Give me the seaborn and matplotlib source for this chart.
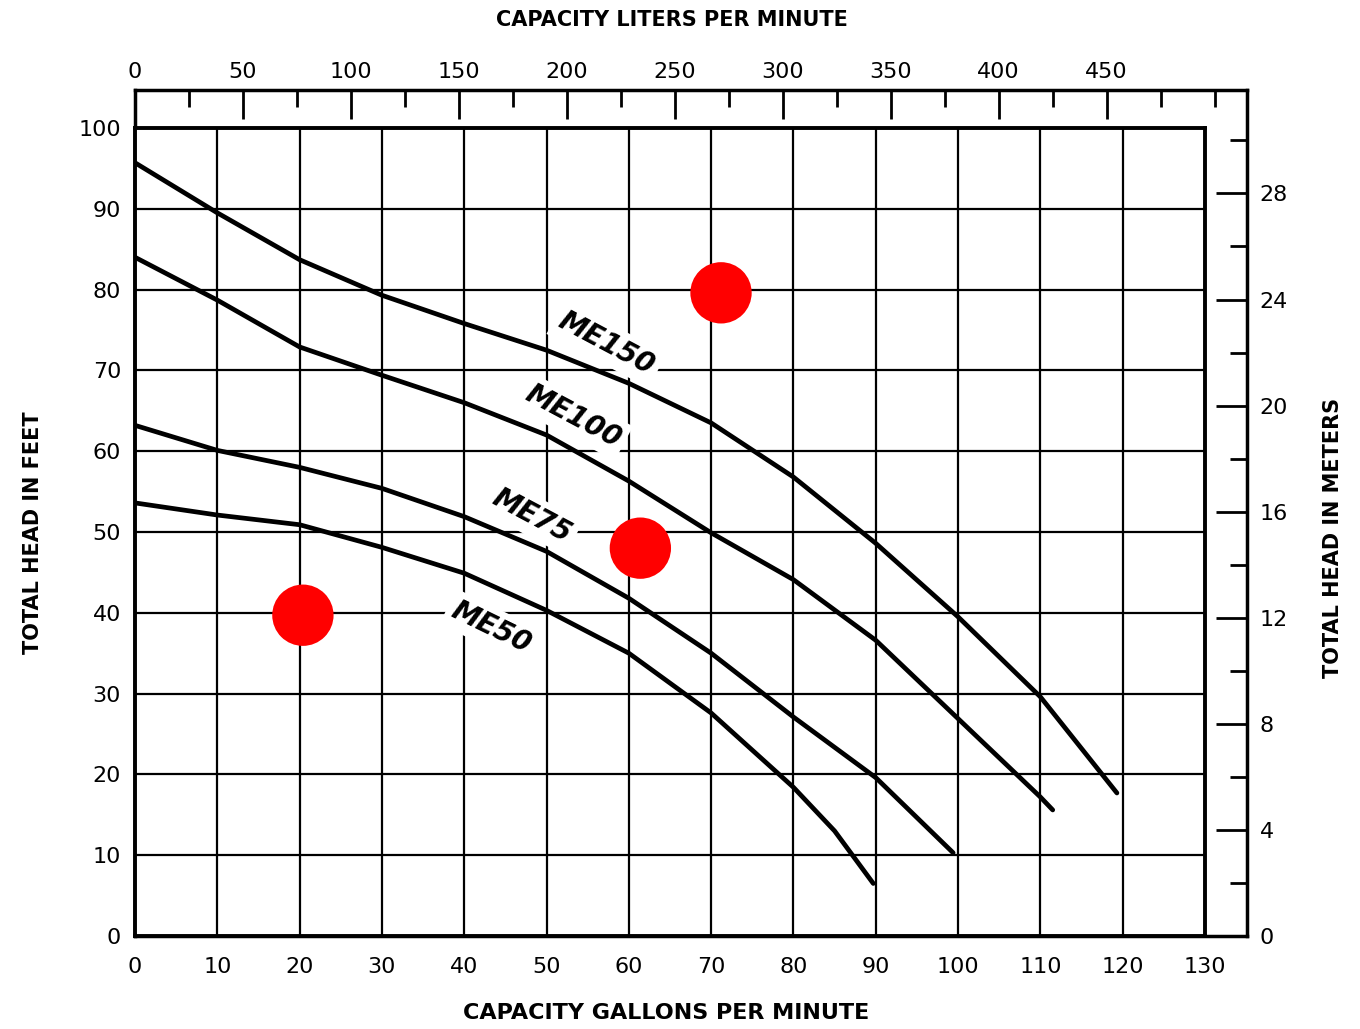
import numpy as np
import pandas as pd
import seaborn as sns
import matplotlib.pyplot as plt
from matplotlib.ticker import MultipleLocator

sns.set_style("white")
plt.rcParams['font.family'] = ['DejaVu Sans']
plt.rcParams['text.color'] = 'black'
plt.rcParams['xtick.color'] = 'black'
plt.rcParams['ytick.color'] = 'black'
plt.rcParams['axes.labelcolor'] = 'black'

# Pump curves (capacity in gpm, head in feet)
me150_gpm = [0, 10, 20, 30, 40, 50, 60, 70, 80, 90, 100, 110, 119.3]
me150_ft = [95.7, 89.5, 83.7, 79.3, 75.8, 72.5, 68.4, 63.5, 56.8, 48.6, 39.5, 29.6, 17.7]

me100_gpm = [0, 10, 20, 30, 40, 50, 60, 70, 80, 90, 100, 110, 111.5]
me100_ft = [84.0, 78.7, 72.9, 69.4, 66.0, 62.0, 56.3, 49.9, 44.1, 36.6, 26.9, 17.2, 15.6]

me75_gpm = [0, 10, 20, 30, 40, 50, 60, 70, 80, 90, 99.4]
me75_ft = [63.2, 60.1, 58.0, 55.4, 51.9, 47.6, 41.8, 35.0, 27.1, 19.6, 10.3]

me50_gpm = [0, 10, 20, 30, 40, 50, 60, 70, 80, 85, 89.7]
me50_ft = [53.6, 52.1, 50.9, 48.1, 44.9, 40.3, 35.0, 27.6, 18.4, 13.0, 6.5]

# red markers
dot_gpm = [71.2, 61.4, 20.4]
dot_ft = [79.6, 48.0, 39.7]

# curve labels: name, gpm, ft, angle
label_names = ['ME150', 'ME100', 'ME75', 'ME50']
label_gpm = [57.3, 53.2, 48.2, 43.3]
label_ft = [73.3, 64.3, 52.0, 38.2]
label_rot = [-28, -28, -28, -26]

gpm_ticks = list(range(0, 131, 10))
ft_ticks = list(range(0, 101, 10))
lpm_ticks = list(range(0, 451, 50))
m_ticks = list(range(0, 29, 4))

frames = []
for name, x, y in [('ME150', me150_gpm, me150_ft), ('ME100', me100_gpm, me100_ft),
                   ('ME75', me75_gpm, me75_ft), ('ME50', me50_gpm, me50_ft)]:
    frames.append(pd.DataFrame({'gpm': x, 'ft': y, 'pump': name}))
df = pd.concat(frames, ignore_index=True)
dots = pd.DataFrame({'gpm': dot_gpm, 'ft': dot_ft})

fig = plt.figure(figsize=(13.6, 10.29), dpi=100)

# outer frame carrying liters (top) and meters (right) scales
ax_out = fig.add_axes([0.09926, 0.09038, 0.81765, 0.82216])
for s in ax_out.spines.values():
    s.set_linewidth(2.5)
    s.set_color('black')
ax_out.xaxis.set_ticks_position('top')
ax_out.yaxis.set_ticks_position('right')
ax_out.set_xticks(lpm_ticks)
ax_out.set_yticks(m_ticks)
ax_out.xaxis.set_minor_locator(MultipleLocator(25))
ax_out.yaxis.set_minor_locator(MultipleLocator(2))
ax_out.tick_params(axis='x', which='major', direction='in', length=21, width=2,
                   labelsize=16, pad=6)
ax_out.tick_params(axis='x', which='minor', direction='in', length=12, width=2)
ax_out.tick_params(axis='y', which='major', direction='in', length=22, width=2,
                   labelsize=16, pad=9)
ax_out.tick_params(axis='y', which='minor', direction='in', length=12, width=2)
ax_out.set_xlim(0, 515)
ax_out.set_ylim(0, 31.9)

# main chart area
ax = fig.add_axes([0.09926, 0.09038, 0.78676, 0.78523])
ax.set_zorder(2)
ax.set_xlim(0, 130)
ax.set_ylim(0, 100)
ax.set_xticks(gpm_ticks)
ax.set_yticks(ft_ticks)
ax.tick_params(axis='both', length=0, labelsize=16)
ax.tick_params(axis='x', pad=15)
ax.tick_params(axis='y', pad=10)
ax.grid(True, color='black', linewidth=1.6)
ax.set_axisbelow(True)
for s in ax.spines.values():
    s.set_linewidth(2.8)
    s.set_color('black')

sns.lineplot(data=df, x='gpm', y='ft', hue='pump', palette=['black'] * 4,
             sort=False, estimator=None, linewidth=3.4, legend=False, ax=ax, zorder=3)
sns.scatterplot(data=dots, x='gpm', y='ft', color='#ff0000', s=1950,
                edgecolor='none', ax=ax, zorder=5)
ax.set_xlabel('')
ax.set_ylabel('')

for name, x, y, r in zip(label_names, label_gpm, label_ft, label_rot):
    ax.text(x, y, name, rotation=r, ha='center', va='center', fontsize=20,
            fontweight='bold', fontstyle='italic', zorder=1.5,
            rotation_mode='anchor',
            bbox=dict(facecolor='white', edgecolor='none', pad=4))

fig.text(0.494, 0.9806, 'CAPACITY LITERS PER MINUTE', ha='center', va='center',
         fontsize=15, fontweight='bold')
fig.text(0.49, 0.0155, 'CAPACITY GALLONS PER MINUTE', ha='center', va='center',
         fontsize=16, fontweight='bold')
fig.text(0.0243, 0.482, 'TOTAL HEAD IN FEET', ha='center', va='center',
         rotation=90, fontsize=15, fontweight='bold')
fig.text(0.980, 0.477, 'TOTAL HEAD IN METERS', ha='center', va='center',
         rotation=90, fontsize=15, fontweight='bold')

plt.savefig('out.png', dpi=100)
plt.close()
